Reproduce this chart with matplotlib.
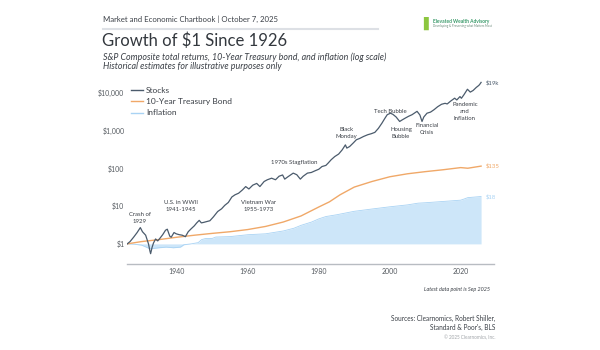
import matplotlib
matplotlib.use("Agg")
import matplotlib.pyplot as plt
from matplotlib.ticker import FixedLocator, NullLocator

plt.rcParams['font.family'] = ['Lato', 'DejaVu Sans']

# growth of $1 (year, value)
stock_years = [1926.0, 1926.8, 1927.8, 1928.8, 1929.7, 1930.3, 1931.2, 1932.0, 1932.4, 1932.6,
               1933.0, 1933.4, 1934.0, 1934.6, 1935.2, 1936.0, 1936.8, 1937.3, 1938.0, 1938.4,
               1939.2, 1939.8, 1940.7, 1941.5, 1942.4, 1943.2, 1944.0, 1944.9, 1945.6, 1946.3,
               1946.9, 1947.5, 1948.4, 1949.3, 1950.3, 1951.5, 1952.6, 1953.5, 1954.5, 1955.5,
               1956.4, 1957.4, 1958.5, 1959.4, 1960.3, 1961.4, 1962.5, 1963.4, 1964.6, 1965.5,
               1966.7, 1967.8, 1968.8, 1969.8, 1970.4, 1971.3, 1972.8, 1973.8, 1974.8, 1975.6,
               1976.8, 1977.9, 1978.9, 1980.0, 1980.9, 1982.0, 1982.6, 1983.5, 1984.5, 1985.6,
               1986.6, 1987.5, 1987.9, 1988.7, 1989.7, 1990.6, 1991.5, 1992.6, 1993.8, 1994.8,
               1995.8, 1996.8, 1997.8, 1998.6, 1999.3, 2000.2, 2000.9, 2001.8, 2002.8, 2003.4,
               2004.3, 2005.3, 2006.3, 2007.7, 2008.5, 2009.1, 2009.6, 2010.5, 2011.5, 2012.5,
               2013.5, 2014.6, 2015.6, 2016.2, 2017.2, 2018.3, 2018.9, 2019.8, 2020.2, 2020.9,
               2021.9, 2022.7, 2023.5, 2024.4, 2025.0, 2025.3, 2025.75]
stock_values = [1.0, 1.15, 1.5, 2.0, 2.7, 2.1, 1.7, 1.0, 0.65, 0.55,
                0.8, 1.05, 1.35, 1.2, 1.4, 1.75, 2.3, 2.45, 1.6, 1.5,
                2.0, 1.85, 1.75, 1.7, 1.55, 2.1, 2.5, 3.0, 3.6, 4.2,
                3.6, 3.7, 3.9, 4.1, 5.2, 7.2, 8.5, 10.5, 12.5, 17.5,
                20.0, 22.0, 27.0, 33.0, 28.5, 36.0, 40.0, 33.0, 45.0, 50.0,
                55.0, 50.0, 62.0, 67.0, 52.0, 60.0, 75.0, 68.0, 52.0, 62.0,
                75.0, 78.0, 86.0, 95.0, 112.0, 120.0, 137.0, 170.0, 206.0, 240.0,
                310.0, 420.0, 345.0, 380.0, 470.0, 575.0, 620.0, 700.0, 780.0, 830.0,
                900.0, 1150.0, 1580.0, 2100.0, 2650.0, 2900.0, 2700.0, 2300.0, 1750.0, 1900.0,
                2130.0, 2400.0, 2650.0, 3250.0, 2600.0, 1750.0, 2300.0, 2900.0, 3100.0, 3600.0,
                4300.0, 5000.0, 5300.0, 5100.0, 6100.0, 7250.0, 6500.0, 8000.0, 7200.0, 8900.0,
                12500.0, 10500.0, 11600.0, 14000.0, 15500.0, 16500.0, 19000.0]

bond_years = [1926, 1930, 1935, 1940, 1945, 1950, 1955, 1960, 1965, 1970, 1975, 1980,
              1983, 1986, 1990, 1995, 2000, 2005, 2010, 2015, 2020, 2022, 2025.75]
bond_values = [1.0, 1.15, 1.3, 1.5, 1.7, 1.9, 2.1, 2.4, 2.9, 3.8, 5.5, 9.5,
               13.0, 20.0, 32.0, 45.0, 60.0, 72.0, 82.0, 92.0, 105.0, 101.0, 115.0]

cpi_years = [1926, 1928, 1930, 1931, 1932, 1933, 1935, 1937, 1939, 1941, 1942, 1944, 1946,
             1947, 1948, 1950, 1951, 1955, 1960, 1965, 1970, 1973, 1975, 1978, 1980, 1982,
             1985, 1990, 1995, 2000, 2005, 2008, 2010, 2015, 2020, 2021, 2022, 2025.75]
cpi_values = [1.0, 0.98, 0.93, 0.85, 0.77, 0.75, 0.79, 0.82, 0.79, 0.82, 0.95, 1.0, 1.08,
              1.3, 1.38, 1.4, 1.52, 1.56, 1.75, 1.85, 2.2, 2.6, 3.1, 3.8, 4.6, 5.3,
              5.9, 7.3, 8.4, 9.6, 10.8, 12.0, 12.3, 13.3, 14.4, 15.5, 16.8, 18.0]

tick_years = [1940, 1960, 1980, 2000, 2020]
tick_values = [1, 10, 100, 1000, 10000]
tick_labels = ['$1', '$10', '$100', '$1,000', '$10,000']

series_names = ['Stocks', '10-Year Treasury Bond', 'Inflation']
end_labels = ['$19k', '$135', '$18']

events = [
    ('Crash of\n1929', 1929.6, 4.9),
    ('U.S. in WWII\n1941-1945', 1941.1, 9.8),
    ('Vietnam War\n1955-1973', 1963.0, 9.8),
    ('1970s Stagflation', 1973.0, 146),
    ('Black\nMonday', 1987.9, 890),
    ('Tech Bubble', 2000.1, 3300),
    ('Housing\nBubble', 2003.2, 890),
    ('Financial\nCrisis', 2010.5, 1100),
    ('Pandemic\nand\nInflation', 2021.2, 3300),
]

stock_color = '#4b5b6c'
bond_color = '#f0a868'
infl_fill = '#cde6f9'
infl_edge = '#a9d3f4'
text_color = '#3a3f46'

fig = plt.figure(figsize=(6, 3.5), dpi=100)
ax = fig.add_axes([0.212, 0.246, 0.612, 0.54])

ax.fill_between(cpi_years, 1, cpi_values, color=infl_fill, lw=0)
ax.plot(cpi_years, cpi_values, color=infl_edge, lw=0.6)
ax.plot(bond_years, bond_values, color=bond_color, lw=1.0)
ax.plot(stock_years, stock_values, color=stock_color, lw=0.9)

ax.set_yscale('log')
ax.set_xlim(1926, 2029.5)
ax.set_ylim(0.295, 30000)
ax.yaxis.set_major_locator(FixedLocator(tick_values))
ax.yaxis.set_minor_locator(NullLocator())
ax.set_yticklabels(tick_labels)
ax.set_xticks(tick_years)
ax.tick_params(axis='both', length=0, labelsize=5, colors='#555a60')
ax.tick_params(axis='y', pad=2)
ax.tick_params(axis='x', pad=3)
for s in ['top', 'right', 'left']:
    ax.spines[s].set_visible(False)
ax.spines['bottom'].set_color('#b8bcc2')
ax.spines['bottom'].set_linewidth(1.0)

# legend
ax.legend(handles=[
    plt.Line2D([], [], color=stock_color, lw=1.0),
    plt.Line2D([], [], color=bond_color, lw=1.0),
    plt.Line2D([], [], color=infl_edge, lw=1.0)],
    labels=series_names, loc='upper left', bbox_to_anchor=(-0.01, 0.975),
    frameon=False, fontsize=6, handlelength=1.4, handletextpad=0.4,
    labelspacing=0.5, labelcolor=text_color)

for label, x, y in events:
    ax.text(x, y, label, fontsize=4.3, color=text_color, ha='center', va='center',
            linespacing=1.5)

end_colors = [stock_color, bond_color, infl_edge]
end_points = [stock_values[-1], bond_values[-1], cpi_values[-1]]
for lab, val, c in zip(end_labels, end_points, end_colors):
    ax.text(2027.0, val, lab, fontsize=4.3, color=c, ha='left', va='center')

# header
fig.text(0.172, 0.945, 'Market and Economic Chartbook | October 7, 2025',
         fontsize=5.6, color=text_color, va='center')
fig.add_artist(plt.Line2D([0.172, 0.63], [0.917, 0.917], color='#dde0e5', lw=1.5))
fig.text(0.170, 0.885, 'Growth of $1 Since 1926', fontsize=12, color='#33383e',
         va='center')
fig.text(0.172, 0.836, 'S&P Composite total returns, 10-Year Treasury bond, and inflation (log scale)',
         fontsize=6.4, style='italic', color=text_color, va='center')
fig.text(0.172, 0.811, 'Historical estimates for illustrative purposes only',
         fontsize=6.4, style='italic', color=text_color, va='center')

# logo
fig.text(0.705, 0.934, '\u258c', fontsize=9, color='#8cc63f', va='center')
fig.text(0.722, 0.94, 'Elevated Wealth Advisory', fontsize=3.5, color='#3a9a6a',
         va='center', weight='bold')
fig.text(0.722, 0.925, 'Developing & Preserving what Matters Most', fontsize=2.2,
         color='#6a8a7a', va='center')

# footer
fig.text(0.817, 0.174, 'Latest data point is Sep 2025', fontsize=3.9, style='italic',
         color=text_color, ha='right', va='center')
fig.text(0.825, 0.077, "Sources: Clearnomics, Robert Shiller,\nStandard & Poor's, BLS",
         fontsize=4.7, color=text_color, ha='right', va='center', linespacing=1.2)
fig.text(0.825, 0.037, '\u00a9 2025 Clearnomics, Inc.', fontsize=3.3, color='#a0a4a8',
         ha='right', va='center')

fig.savefig('out.png', dpi=100, facecolor='white')
